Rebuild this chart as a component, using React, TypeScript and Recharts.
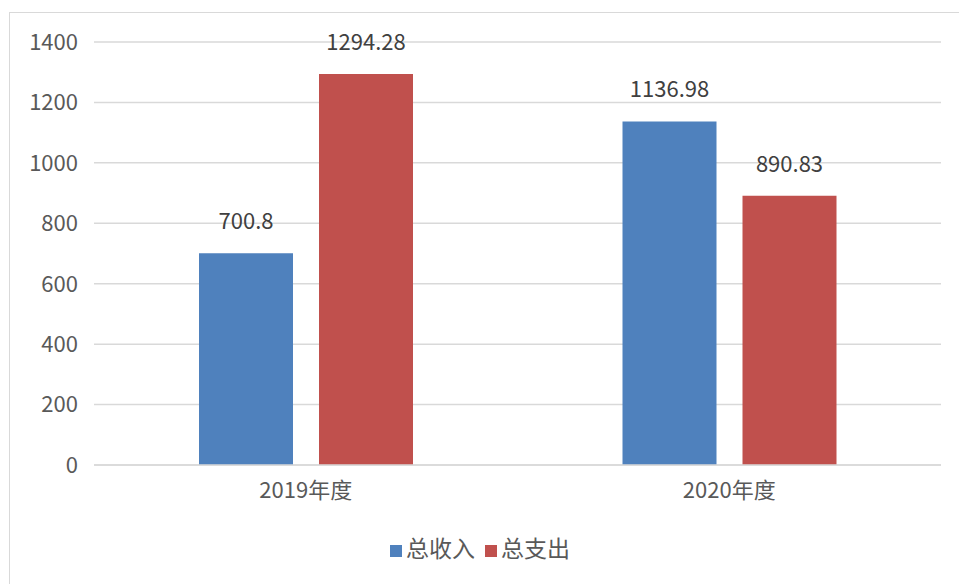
import React from "react";
import { BarChart, Bar, XAxis, YAxis, CartesianGrid, Legend, LabelList } from "recharts";

const categories = ["2019年度", "2020年度"];
const incomeValues = [700.8, 1136.98];
const expenseValues = [1294.28, 890.83];
const yTicks = [0, 200, 400, 600, 800, 1000, 1200, 1400];

const data = categories.map((c, i) => ({
  name: c,
  income: incomeValues[i],
  expense: expenseValues[i],
}));

const FONT = "'Noto Sans CJK SC', 'Microsoft YaHei', sans-serif";
const seriesOrder: Record<string, number> = { income: 0, expense: 1 };

export default function App() {
  return (
    <div style={{ position: "absolute", left: 0, top: 0, width: 959, height: 584, background: "#fff", overflow: "hidden", fontFamily: FONT }}>
      <div style={{ position: "absolute", left: 9, top: 12, width: 980, height: 600, border: "1px solid #d9d9d9", boxSizing: "border-box" }} />
      <BarChart
        width={959}
        height={584}
        data={data}
        margin={{ top: 42, right: 18, left: 0, bottom: 55 }}
        barSize={94}
        barGap={26}
        style={{ fontFamily: FONT }}
      >
        <CartesianGrid vertical={false} stroke="#d9d9d9" strokeWidth={1.5} />
        <XAxis
          dataKey="name"
          axisLine={{ stroke: "#d9d9d9", strokeWidth: 1.5 }}
          tickLine={false}
          tick={{ fill: "#595959", fontSize: 22 }}
          tickMargin={11}
          height={30}
        />
        <YAxis
          domain={[0, 1400]}
          ticks={yTicks}
          axisLine={false}
          tickLine={false}
          tick={{ fill: "#595959", fontSize: 22 }}
          tickMargin={10}
          width={94}
        />
        <Legend
          iconType="square"
          iconSize={12}
          itemSorter={(item: any) => seriesOrder[item.dataKey] ?? 0}
          wrapperStyle={{ fontSize: 23, color: "#595959", top: 530, left: 0, width: 970, lineHeight: "34px" }}
          formatter={(v) => <span style={{ color: "#595959" }}>{v}</span>}
        />
        <Bar dataKey="income" name="总收入" fill="#4f81bd" isAnimationActive={false}>
          <LabelList dataKey="income" position="top" offset={24} fill="#404040" fontSize={22} />
        </Bar>
        <Bar dataKey="expense" name="总支出" fill="#c0504d" isAnimationActive={false}>
          <LabelList dataKey="expense" position="top" offset={24} fill="#404040" fontSize={22} />
        </Bar>
      </BarChart>
    </div>
  );
}
